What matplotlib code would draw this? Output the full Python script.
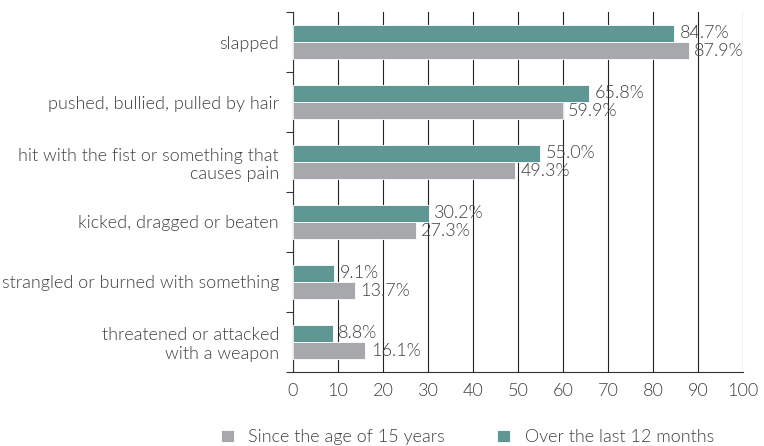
import matplotlib.pyplot as plt
import numpy as np

categories = ['slapped', 'pushed, bullied, pulled by hair',
              'hit with the fist or something that\ncauses pain',
              'kicked, dragged or beaten',
              'strangled or burned with something',
              'threatened or attacked\nwith a weapon']
since_15 = [87.9, 59.9, 49.3, 27.3, 13.7, 16.1]
last_12m = [84.7, 65.8, 55.0, 30.2, 9.1, 8.8]

teal = '#5f9794'
grey = '#a7a8ab'
txt = '#404040'

plt.rcParams['font.family'] = ['Lato', 'DejaVu Sans']
plt.rcParams['font.weight'] = 300

fig = plt.figure(figsize=(7.64, 4.46), dpi=100)
ax = fig.add_axes([0.3835, 0.166, 0.589, 0.807])

y = np.arange(len(categories))
h = 0.29
b1 = ax.barh(y - h / 2, last_12m, height=h, color=teal, edgecolor='white',
             linewidth=0.6, label='Over the last 12 months', zorder=3)
b2 = ax.barh(y + h / 2, since_15, height=h, color=grey, edgecolor='white',
             linewidth=0.6, label='Since the age of 15 years', zorder=3)

for bars, vals in ((b1, last_12m), (b2, since_15)):
    for rect, v in zip(bars, vals):
        ax.annotate(f'{v:.1f}%', (rect.get_width(), rect.get_y() + rect.get_height() / 2),
                    xytext=(4, 0), textcoords='offset points', va='center',
                    ha='left', fontsize=13, color=txt, zorder=4)

ax.set_xlim(0, 100)
ax.set_ylim(len(categories) - 0.5, -0.5)
ax.set_xticks(range(0, 101, 10))
ax.tick_params(axis='x', length=0, pad=8, labelsize=13, labelcolor=txt)
ax.set_yticks(y)
ax.set_yticklabels(categories, fontsize=13, color=txt)
ax.tick_params(axis='y', which='major', length=0, pad=10)
ax.set_yticks(np.arange(len(categories) + 1) - 0.5, minor=True)
ax.tick_params(axis='y', which='minor', length=5, color='#333333', width=0.8)
for lbl in ax.get_yticklabels():
    lbl.set_ha('right')
    lbl.set_multialignment('right')

ax.grid(axis='x', color='#222222', linewidth=0.8, zorder=0)
ax.set_axisbelow(True)
for s in ('top', 'right'):
    ax.spines[s].set_visible(False)
for s in ('left', 'bottom'):
    ax.spines[s].set_color('#333333')
    ax.spines[s].set_linewidth(0.8)

handles = [b2, b1]
fig.legend(handles, [hh.get_label() for hh in handles], loc='lower center',
           bbox_to_anchor=(0.612, -0.035), ncol=2, frameon=False, fontsize=13,
           handlelength=0.7, handleheight=0.7, columnspacing=2.9,
           labelcolor=txt)

fig.savefig('out.png', dpi=100)
